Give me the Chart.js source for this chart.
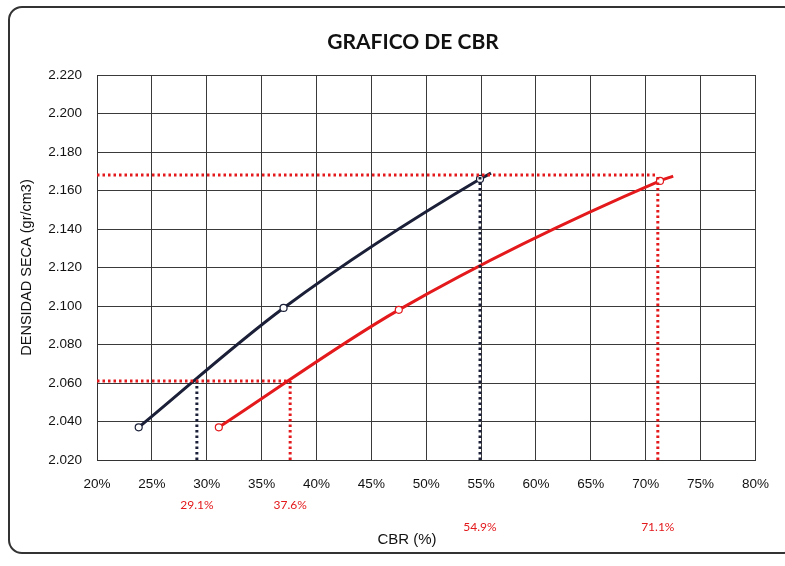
<!DOCTYPE html>
<html>
<head>
<meta charset="utf-8">
<script src="https://cdn.jsdelivr.net/npm/chart.js@4.4.1/dist/chart.umd.min.js"></script>
<style>
  html, body { margin: 0; padding: 0; background: #fff; }
  #marco {
    position: absolute; left: 8px; top: 6px; width: 790px; height: 548px;
    border: 2px solid #333; border-radius: 14px; box-sizing: border-box;
  }
  #wrap { position: absolute; left: 0; top: 0; width: 785px; height: 566px; }
</style>
</head>
<body>
<div id="marco"></div>
<div id="wrap"><canvas id="graficoCBR" width="785" height="566"></canvas></div>
<script>
// ===== DATOS =====
const ticksX = [20, 25, 30, 35, 40, 45, 50, 55, 60, 65, 70, 75, 80];
const ticksY = [2.02, 2.04, 2.06, 2.08, 2.1, 2.12, 2.14, 2.16, 2.18, 2.2, 2.22];

// curva 1 (negra): CBR %, densidad
const cbrNegro = [23.8, 37.0, 54.9, 55.9];
const densNegro = [2.037, 2.099, 2.166, 2.169];

// curva 2 (roja)
const cbrRojo = [31.1, 47.5, 71.3, 72.5];
const densRojo = [2.037, 2.098, 2.165, 2.1675];

// lecturas
const densMax = 2.168;
const dens95 = 2.061;
const lecturas = [29.1, 37.6, 54.9, 71.1];
const lecturaFila = [0, 0, 1, 1];

const NEGRO = "#1b2038";
const ROJO = "#e3191c";

function puntos(xs, ys) {
    return xs.map((x, i) => ({ x: x, y: ys[i] }));
}

// ===== PLUGIN: titulo, etiquetas =====
const textos = {
    id: "textos",
    afterDraw(chart) {
        const ctx = chart.ctx;
        const sx = chart.scales.x;
        ctx.save();
        ctx.textAlign = "center";
        ctx.textBaseline = "middle";
        ctx.fillStyle = "#111";
        ctx.font = "bold 21px Lato, 'Open Sans', sans-serif";
        ctx.fillText("GRAFICO DE CBR", 413, 42);

        ctx.font = "15px 'Liberation Sans', Arial, sans-serif";
        ctx.fillText("CBR (%)", 407, 540);

        ctx.fillStyle = ROJO;
        ctx.font = "12px Lato, 'Open Sans', sans-serif";
        lecturas.forEach((v, i) => {
            const y = lecturaFila[i] === 0 ? 505 : 527;
            ctx.fillText(v.toFixed(1) + "%", sx.getPixelForValue(v), y);
        });
        ctx.restore();
    }
};

function guia(x1, y1, x2, y2, color) {
    return {
        data: [{ x: x1, y: y1 }, { x: x2, y: y2 }],
        showLine: true, borderColor: color, borderWidth: 3,
        borderDash: [2.5, 3], pointRadius: 0
    };
}

new Chart(document.getElementById("graficoCBR"), {
    type: "scatter",
    data: {
        datasets: [
            guia(20, densMax, lecturas[3], densMax, ROJO),
            guia(20, dens95, lecturas[1], dens95, ROJO),
            guia(lecturas[0], 2.02, lecturas[0], dens95, NEGRO),
            guia(lecturas[1], 2.02, lecturas[1], dens95, ROJO),
            guia(lecturas[2], 2.02, lecturas[2], densMax, NEGRO),
            guia(lecturas[3], 2.02, lecturas[3], densMax, ROJO),
            {
                data: puntos(cbrNegro, densNegro),
                showLine: true,
                borderColor: NEGRO,
                borderWidth: 3,
                cubicInterpolationMode: "monotone",
                pointRadius: [3.5, 3.5, 3.5, 0],
                pointBackgroundColor: "#fff",
                pointBorderColor: NEGRO,
                pointBorderWidth: 1.2
            },
            {
                data: puntos(cbrRojo, densRojo),
                showLine: true,
                borderColor: ROJO,
                borderWidth: 3,
                cubicInterpolationMode: "monotone",
                pointRadius: [3.5, 3.5, 3.5, 0],
                pointBackgroundColor: "#fff",
                pointBorderColor: ROJO,
                pointBorderWidth: 1.2
            }
        ]
    },
    options: {
        responsive: false,
        animation: false,
        layout: { padding: { left: 0, top: 75, right: 23, bottom: 0 } },
        plugins: {
            legend: { display: false },
            title: { display: false },
            tooltip: { enabled: false }
        },
        scales: {
            x: {
                type: "linear",
                min: 20,
                max: 80,
                afterBuildTicks: (s) => { s.ticks = ticksX.map(v => ({ value: v })); },
                afterFit: (s) => { s.height = 106; },
                grid: { color: "#3a3a3a", lineWidth: 1, drawTicks: false },
                border: { color: "#333", width: 1 },
                ticks: {
                    padding: 16,
                    color: "#111",
                    font: { size: 13.5, family: "'Liberation Sans', Arial, sans-serif" },
                    callback: (v) => v + "%"
                }
            },
            y: {
                type: "linear",
                min: 2.02,
                max: 2.22,
                afterBuildTicks: (s) => { s.ticks = ticksY.map(v => ({ value: v })); },
                afterFit: (s) => { s.width = 97; },
                grid: { color: "#3a3a3a", lineWidth: 1, drawTicks: false },
                border: { color: "#333", width: 1 },
                ticks: {
                    padding: 15,
                    color: "#111",
                    font: { size: 13.5, family: "'Liberation Sans', Arial, sans-serif" },
                    callback: (v) => v.toFixed(3)
                },
                title: {
                    display: true,
                    text: "DENSIDAD SECA (gr/cm3)",
                    color: "#111",
                    font: { size: 14.5, family: "'Liberation Sans', Arial, sans-serif" },
                    padding: { top: 18, bottom: 0 }
                }
            }
        }
    },
    plugins: [textos]
});
</script>
</body>
</html>
